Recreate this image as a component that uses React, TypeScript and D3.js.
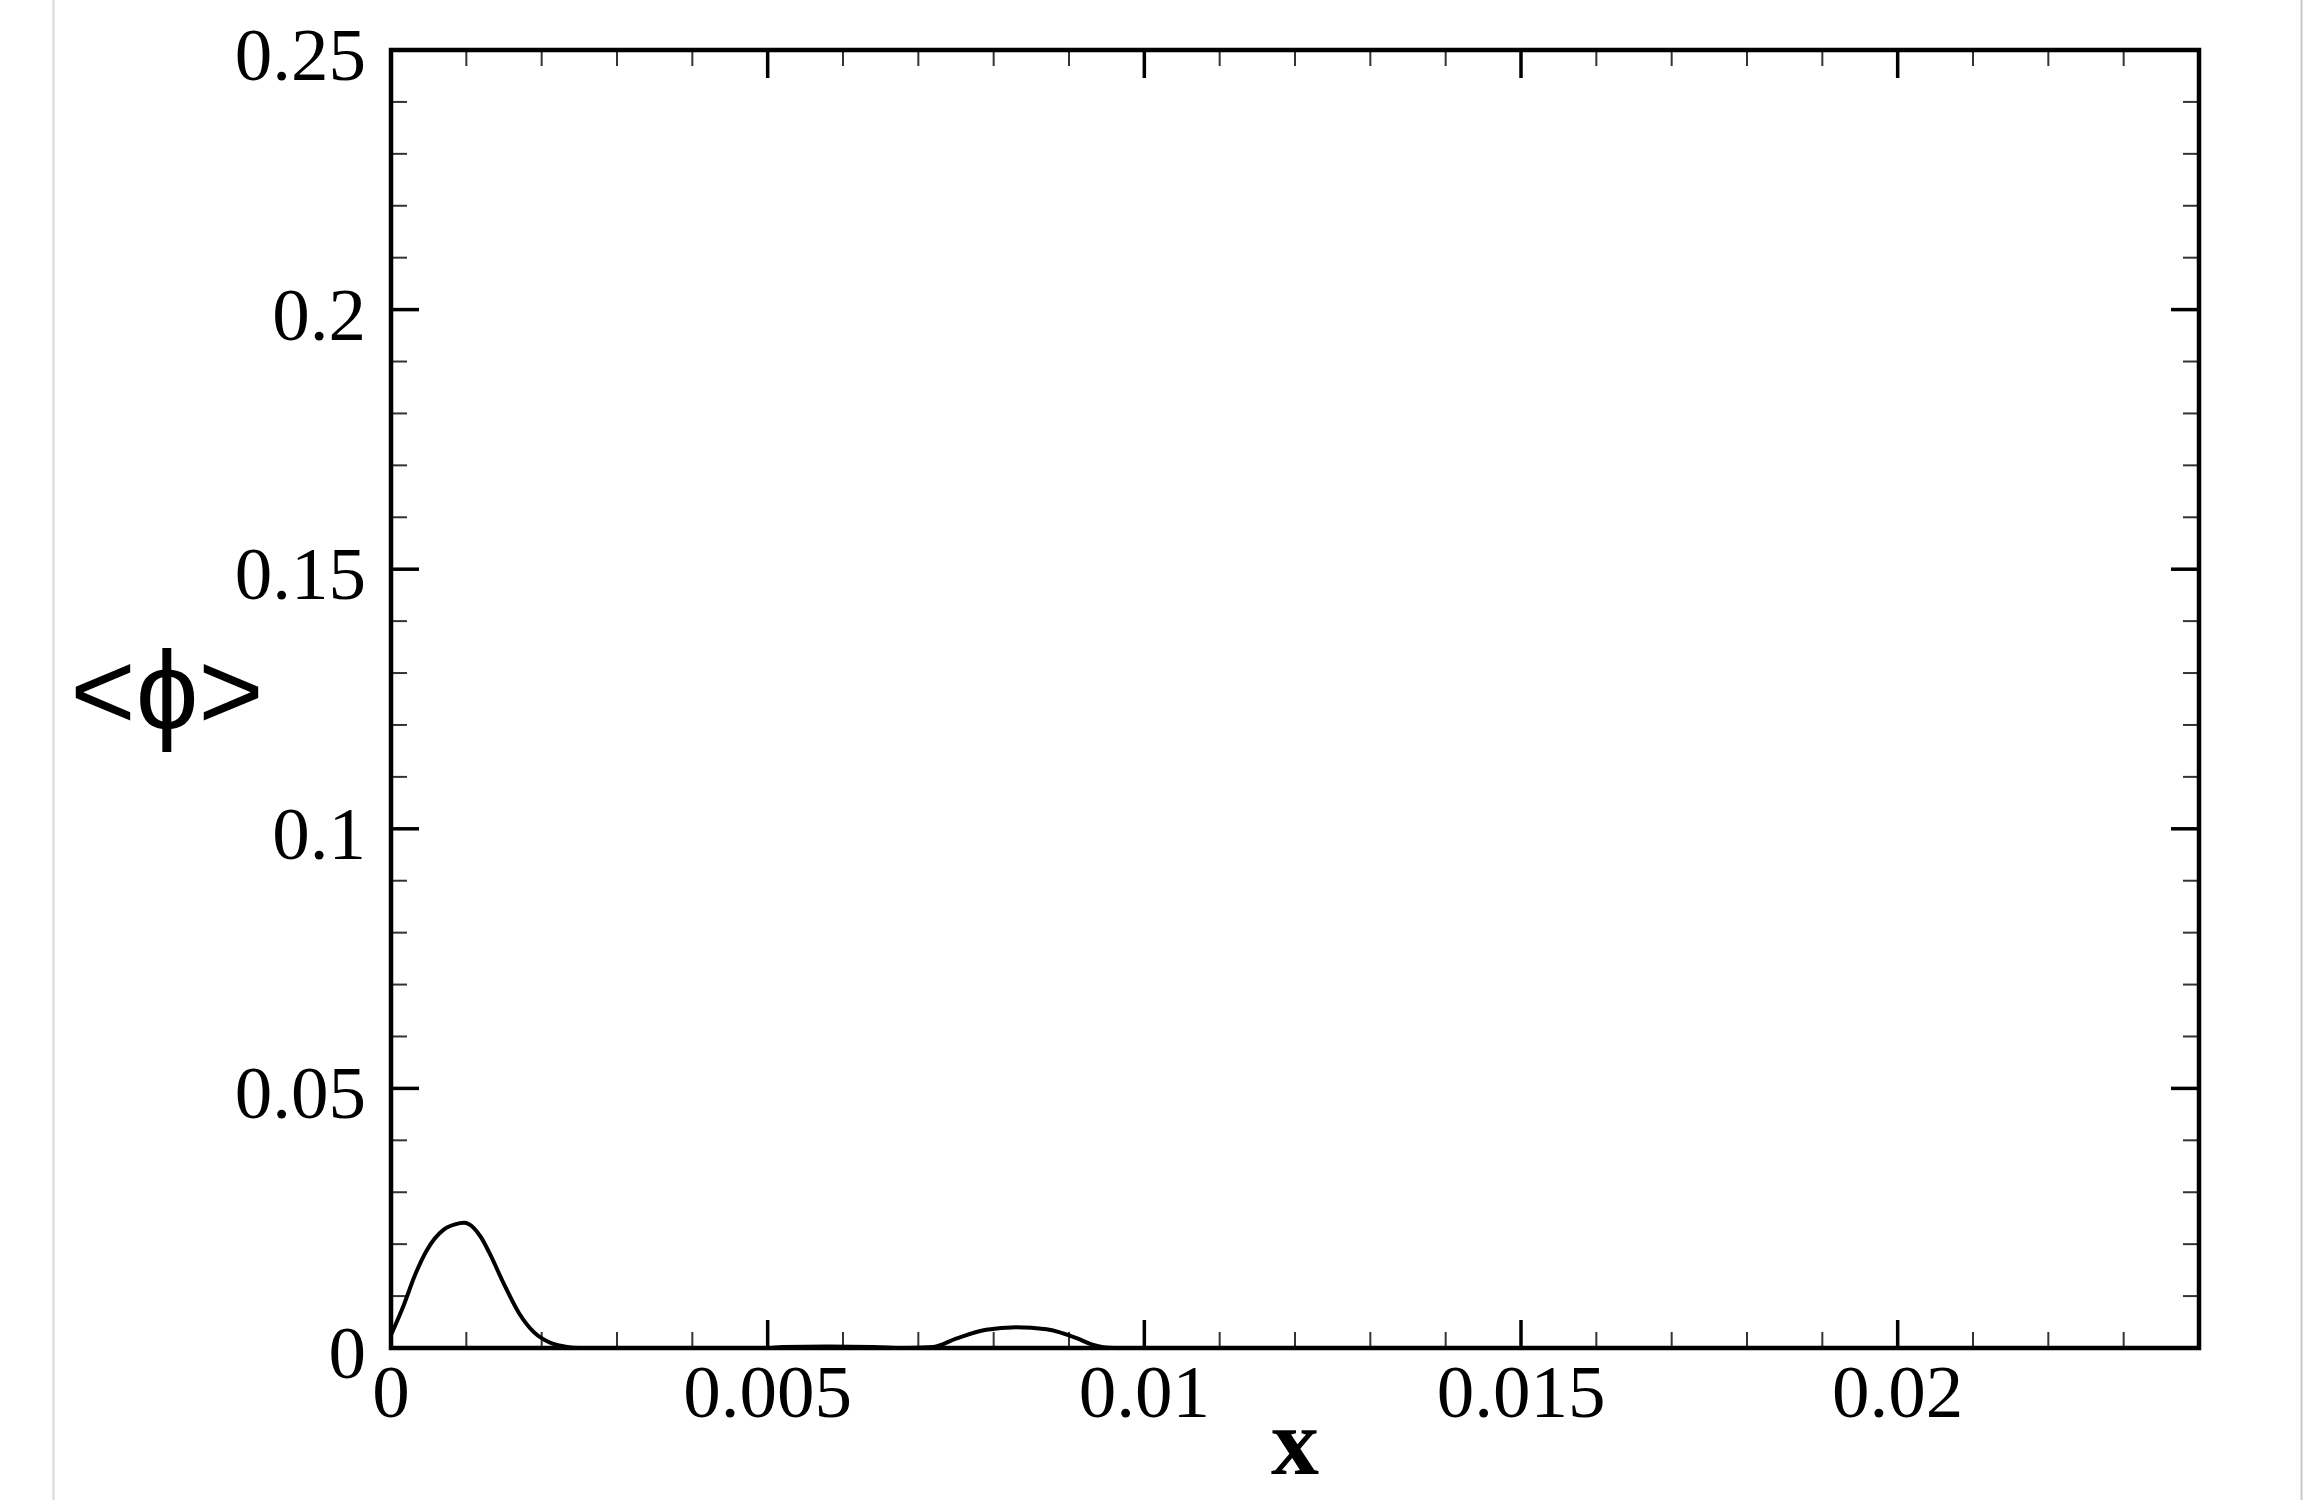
import React from "react";
import * as d3 from "d3";

// sampled <phi> profile along x
const xValues = [0, 0.00017, 0.00032, 0.00047, 0.0007, 0.00085, 0.00097, 0.0011, 0.0012, 0.0013, 0.0015, 0.0017, 0.0019, 0.0021, 0.0023, 0.0025, 0.005, 0.0052, 0.0058, 0.0064, 0.0068, 0.0072, 0.0075, 0.0079, 0.0083, 0.0087, 0.0091, 0.0093, 0.0096, 0.01, 0.024];
const phiValues = [0.0025, 0.0083, 0.0141, 0.0187, 0.0228, 0.0238, 0.0241, 0.0231, 0.0212, 0.0185, 0.0123, 0.0067, 0.003, 0.0011, 0.0003, 0, 0, 0.0002, 0.0003, 0.0002, 0, 0.0002, 0.0018, 0.0035, 0.004, 0.0036, 0.0019, 0.0007, 0, 0, 0];

const xMajorTicks = [0, 0.005, 0.01, 0.015, 0.02];
const xTickLabels = ["0", "0.005", "0.01", "0.015", "0.02"];
const yMajorTicks = [0, 0.05, 0.1, 0.15, 0.2, 0.25];
const yTickLabels = ["0", "0.05", "0.1", "0.15", "0.2", "0.25"];

const W = 2303;
const H = 1500;
const margin = { left: 391, right: 104, top: 50, bottom: 152 };

const App = () => {
    const innerW = W - margin.left - margin.right;
    const innerH = H - margin.top - margin.bottom;

    const x = d3.scaleLinear().domain([0, 0.024]).range([margin.left, margin.left + innerW]);
    const y = d3.scaleLinear().domain([0, 0.25]).range([margin.top + innerH, margin.top]);

    const xMinor = d3.range(0, 24.5, 1).map(d => d / 1000).filter(d => !xMajorTicks.some(m => Math.abs(m - d) < 1e-9));
    const yMinor = d3.range(0, 25.5, 1).map(d => d / 100).filter(d => !yMajorTicks.some(m => Math.abs(m - d) < 1e-9));

    const pts: [number, number][] = xValues.map((v, i) => [v, phiValues[i]]);
    const line = d3.line<[number, number]>()
        .x(d => x(d[0]))
        .y(d => y(d[1]))
        .curve(d3.curveMonotoneX);

    const x0 = x(0), x1 = x(0.024), y0 = y(0), y1 = y(0.25);
    const majorLen = 28;
    const minorLen = 16;
    const font = "'Liberation Serif', 'Times New Roman', serif";

    return (
        <svg width={W} height={H} style={{ position: "absolute", left: 0, top: 0, background: "#fff" }}>
            <rect x={0} y={0} width={W} height={H} fill="#fff" />
            {/* page edges */}
            <line x1={53.5} x2={53.5} y1={0} y2={H} stroke="#d8d8d8" strokeWidth={2} />
            <line x1={2301.5} x2={2301.5} y1={0} y2={H} stroke="#c8c8c8" strokeWidth={2} />

            {/* minor ticks */}
            <g stroke="#333" strokeWidth={2}>
                {xMinor.map((d, i) => (
                    <g key={"xm" + i}>
                        <line x1={x(d)} x2={x(d)} y1={y0} y2={y0 - minorLen} />
                        <line x1={x(d)} x2={x(d)} y1={y1} y2={y1 + minorLen} />
                    </g>
                ))}
                {yMinor.map((d, i) => (
                    <g key={"ym" + i}>
                        <line x1={x0} x2={x0 + minorLen} y1={y(d)} y2={y(d)} />
                        <line x1={x1} x2={x1 - minorLen} y1={y(d)} y2={y(d)} />
                    </g>
                ))}
            </g>

            {/* major ticks */}
            <g stroke="#000" strokeWidth={3.5}>
                {xMajorTicks.map((d, i) => (
                    <g key={"xM" + i}>
                        <line x1={x(d)} x2={x(d)} y1={y0} y2={y0 - majorLen} />
                        <line x1={x(d)} x2={x(d)} y1={y1} y2={y1 + majorLen} />
                    </g>
                ))}
                {yMajorTicks.map((d, i) => (
                    <g key={"yM" + i}>
                        <line x1={x0} x2={x0 + majorLen} y1={y(d)} y2={y(d)} />
                        <line x1={x1} x2={x1 - majorLen} y1={y(d)} y2={y(d)} />
                    </g>
                ))}
            </g>

            {/* data curve */}
            <path d={line(pts) || ""} fill="none" stroke="#000" strokeWidth={4} strokeLinejoin="round" />

            {/* frame */}
            <rect x={x0} y={y1} width={x1 - x0} height={y0 - y1} fill="none" stroke="#000" strokeWidth={4.5} />

            {/* tick labels */}
            <g fontFamily={font} fontSize={75} fill="#000">
                {xMajorTicks.map((d, i) => (
                    <text key={"xl" + i} x={x(d)} y={y0 + 69} textAnchor="middle">{xTickLabels[i]}</text>
                ))}
                {yMajorTicks.map((d, i) => (
                    <text key={"yl" + i} x={366} y={y(d) + 30} textAnchor="end">{yTickLabels[i]}</text>
                ))}
            </g>

            {/* axis titles */}
            <text x={1295} y={1474} textAnchor="middle" fontFamily={font} fontWeight="bold" fontSize={96}>x</text>
            <text x={167} y={729} textAnchor="middle" fontFamily="'Liberation Sans', 'DejaVu Sans', sans-serif" fontSize={112}>&lt;ϕ&gt;</text>
        </svg>
    );
};

export default App;
